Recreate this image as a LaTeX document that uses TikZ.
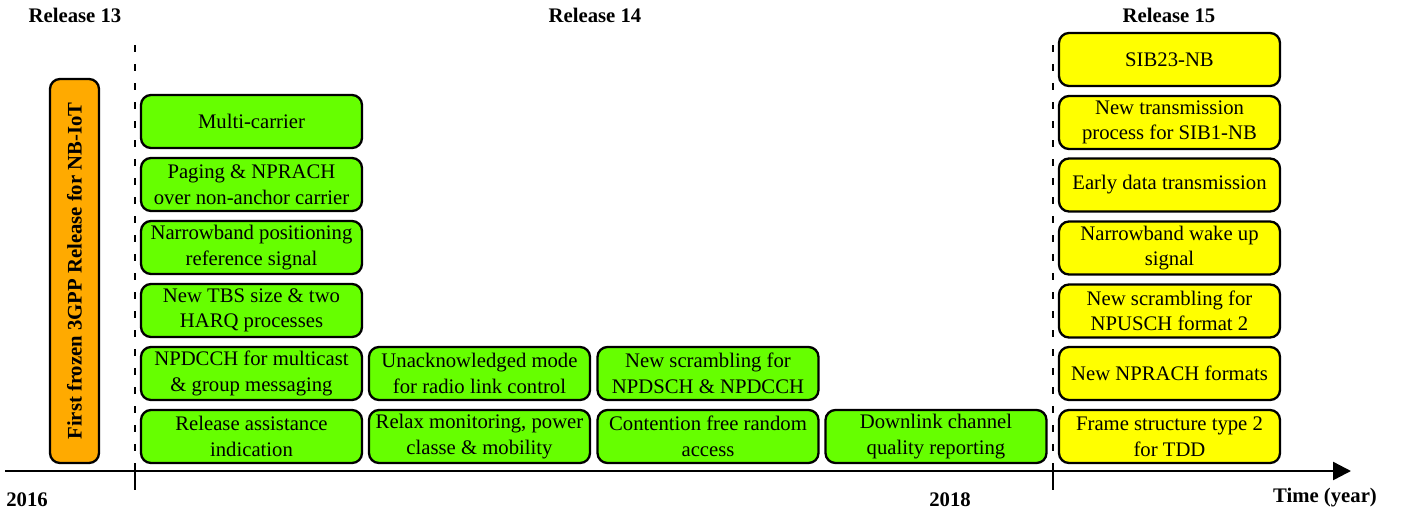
\documentclass[tikz,border=0pt]{standalone}
\usepackage{fontspec}
\setmainfont{Liberation Serif}[Ligatures=TeX]
\newfontfamily\tms{Liberation Serif}
\usetikzlibrary{arrows.meta}
\definecolor{gfill}{RGB}{102,255,0}
\definecolor{yfill}{RGB}{255,255,0}
\definecolor{ofill}{RGB}{255,170,0}
\tikzset{
  boxbase/.style={draw=black, line width=2.3pt, rounded corners=10pt, minimum width=221pt, minimum height=53pt, inner sep=0pt, align=center, font=\tms\fontsize{20.7}{25.5}\selectfont},
  gbox/.style={boxbase, fill=gfill},
  ybox/.style={boxbase, fill=yfill},
  obox/.style={draw=black, line width=2.3pt, rounded corners=10pt, fill=ofill, minimum width=384pt, minimum height=49pt, inner sep=0pt, font=\tms\fontsize{20.7}{25.5}\selectfont\bfseries},
  lbl/.style={font=\tms\fontsize{20.7}{24}\selectfont\bfseries, inner sep=0pt},
  sep/.style={line width=1.6pt, dash pattern=on 7pt off 12pt},
  tick/.style={line width=1.6pt},
}
\begin{document}
\begin{tikzpicture}[x=1pt,y=-1pt]
\useasboundingbox (0,0) rectangle (1403,515);
% labels
\node[lbl] (r13) at (75,15) {Release 13};
\node[lbl] (r14) at (595,15) {Release 14};
\node[lbl] (r15) at (1169,15) {Release 15};
\node[lbl] (y16) at (27,500) {2016};
\node[lbl] (y18) at (950,500) {2018};
\node[lbl] (tlab) at (1325,498) {Time (year)};
% separators
\coordinate (s1t) at (135,45);
\coordinate (s1a) at (135,471);
\coordinate (s1b) at (135,490);
\coordinate (s2t) at (1053,45);
\coordinate (s2a) at (1053,471);
\coordinate (s2b) at (1053,490);
\draw[sep] (s1t) -- (s1a);
\draw[sep] (s2t) -- (s2a);
\draw[tick] (s1a) -- (s1b);
\draw[tick] (s2a) -- (s2b);
% axis
\coordinate (ax0) at (5,471);
\coordinate (ax1) at (1351,471);
\draw[line width=2.4pt, -{Triangle[length=18pt,width=18pt]}] (ax0) -- (ax1);
% release 13
\node[obox, rotate=90] (frozen) at (74.5,271) {First frozen 3GPP Release for NB-IoT};
% release 14 column 1
\node[gbox] (a1) at (251.5,121.5) {Multi-carrier};
\node[gbox] (a2) at (251.5,184.5) {Paging \& NPRACH\\over non-anchor carrier};
\node[gbox] (a3) at (251.5,247.5) {Narrowband positioning\\reference signal};
\node[gbox] (a4) at (251.5,310.5) {New TBS size \& two\\HARQ processes};
\node[gbox] (a5) at (251.5,373.5) {NPDCCH for multicast\\\& group messaging};
\node[gbox] (a6) at (251.5,436.5) {Release assistance\\indication};
% column 2
\node[gbox] (b5) at (479.5,373.5) {Unacknowledged mode\\for radio link control};
\node[gbox] (b6) at (479.5,436.5) {Relax monitoring, power\\classe \& mobility};
% column 3
\node[gbox] (c5) at (708,373.5) {New scrambling for\\NPDSCH \& NPDCCH};
\node[gbox] (c6) at (708,436.5) {Contention free random\\access};
% column 4
\node[gbox] (d6) at (936,436.5) {Downlink channel\\quality reporting};
% release 15
\node[ybox] (e0) at (1169.5,59.5) {SIB23-NB};
\node[ybox] (e1) at (1169.5,122.5) {New transmission\\process for SIB1-NB};
\node[ybox] (e2) at (1169.5,185) {Early data transmission};
\node[ybox] (e3) at (1169.5,248) {Narrowband wake up\\signal};
\node[ybox] (e4) at (1169.5,311) {New scrambling for\\NPUSCH format 2};
\node[ybox] (e5) at (1169.5,373.5) {New NPRACH formats};
\node[ybox] (e6) at (1169.5,436.5) {Frame structure type 2\\for TDD};
\end{tikzpicture}
\end{document}
